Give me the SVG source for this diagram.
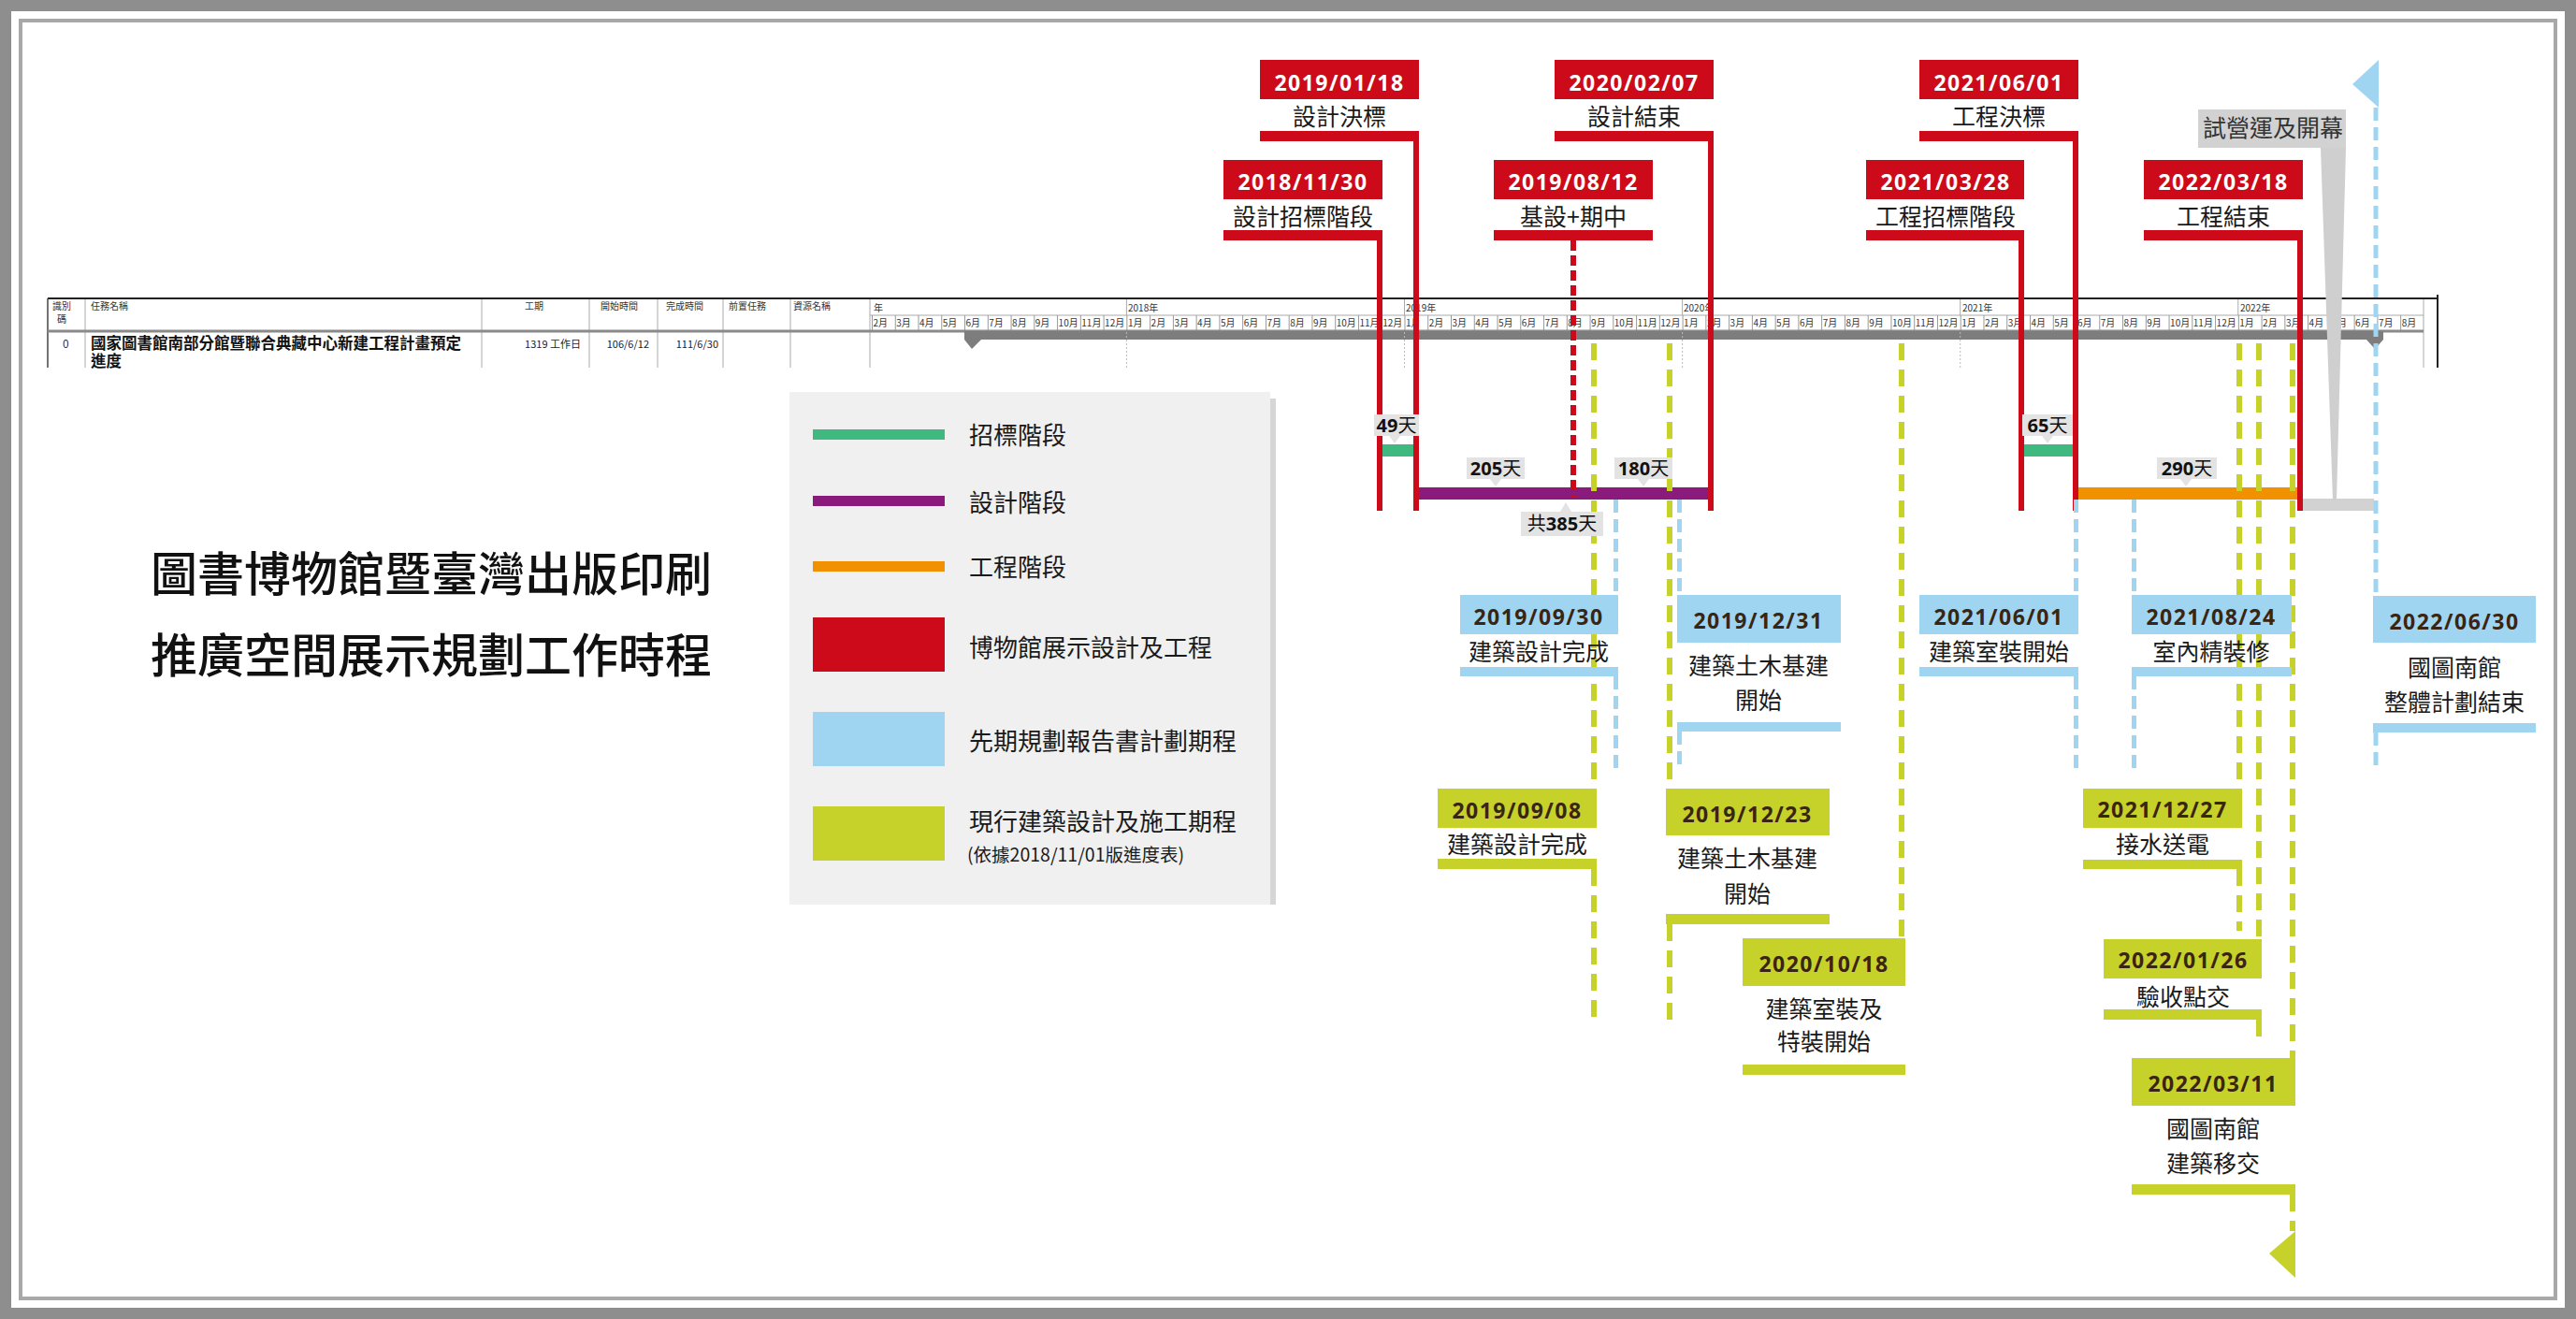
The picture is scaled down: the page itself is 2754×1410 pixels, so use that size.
<svg xmlns="http://www.w3.org/2000/svg" width="2754" height="1410" viewBox="0 0 2754 1410">
<defs>
<style>
.red{fill:#cc0a1a}.blue{fill:#9fd5f1}.lime{fill:#c6d22a}.wh{fill:#fff}
.date{font-family:"Open Sans","Noto Sans",sans-serif;font-weight:700;font-size:23px;text-anchor:middle;letter-spacing:1.5px}
.dw{fill:#fff}.db{fill:#3a2412}
.desc{font-family:"Noto Sans CJK TC",sans-serif;font-size:25px;text-anchor:middle;fill:#1a1a1a}
.lg{font-family:"Noto Sans CJK TC",sans-serif;font-size:26px;fill:#1a1a1a}
.ttl{font-family:"Noto Sans CJK TC",sans-serif;font-size:50px;font-weight:500;fill:#111}
.hd{font-family:"Noto Sans CJK TC",sans-serif;font-size:10px;fill:#333}
.mo{font-family:"Noto Sans CJK TC",sans-serif;font-size:10px;fill:#333}
.rw{font-family:"Noto Sans CJK TC",sans-serif;font-size:11px;fill:#222;text-anchor:end}
.bub{fill:#e3e3e3}
.bt{font-family:"Open Sans","Noto Sans CJK TC",sans-serif;font-weight:700;font-size:20px;fill:#111;text-anchor:middle}
.bt tspan{font-family:"Noto Sans CJK TC",sans-serif;font-weight:400}
.rl{stroke:#cc0a1a;stroke-width:6;fill:none}
.rd{stroke:#cc0a1a;stroke-width:6;fill:none;stroke-dasharray:11 5}
.gd{stroke:#c6d22a;stroke-width:6;fill:none;stroke-dasharray:18 10}
.bd{stroke:#9fd5f1;stroke-width:5;fill:none;stroke-dasharray:14 7}
.grid{stroke:#aaa;stroke-width:1;fill:none}
</style>
<pattern id="mgrid" patternUnits="userSpaceOnUse" x="932" y="337" width="24.76" height="16">
<rect x="0" y="0" width="1" height="16" fill="#999"/>
</pattern>
</defs>
<rect x="0" y="0" width="2754" height="1410" fill="#fff"/>
<g id="frame">
<rect x="6" y="6" width="2742" height="1398" fill="none" stroke="#8e8e8e" stroke-width="12"/>
<rect x="22" y="22" width="2710" height="1366" fill="none" stroke="#a8a8a8" stroke-width="4"/>
</g>

<g id="gantt-table">
<line x1="51" y1="319" x2="2606" y2="319" stroke="#222" stroke-width="2"/>
<line x1="2606" y1="315" x2="2606" y2="393" stroke="#222" stroke-width="2"/>
<line x1="51" y1="319" x2="51" y2="393" stroke="#444" stroke-width="1.5"/>
<path class="grid" d="M91 320V393M515 320V393M630 320V393M703 320V393M773 320V393M845 320V393M930 320V393M2591 320V393"/>
<path class="grid" d="M930 337H2591M1204.4 320V337M1501.5 320V337M1798.6 320V337M2095.7 320V337M2392.8 320V337"/>
<rect x="932" y="337" width="1659" height="16" fill="url(#mgrid)"/>
<line x1="51" y1="354" x2="2591" y2="354" stroke="#8a8a8a" stroke-width="3"/>
<rect x="1031" y="354" width="1517" height="9" fill="#7d7d7d"/>
<polygon points="1031,363 1049,363 1039,373" fill="#7d7d7d"/>
<polygon points="2530,363 2548,363 2539,373" fill="#7d7d7d"/>
<path d="M1204.4 355V393M1501.5 355V393M1798.6 355V393M2095.7 355V393" stroke="#bbb" stroke-width="1" stroke-dasharray="2 2"/>
<text class="hd" x="56" y="331">識別</text>
<text class="hd" x="61" y="345">碼</text>
<text class="hd" x="97" y="331">任務名稱</text>
<text class="hd" x="561" y="331">工期</text>
<text class="hd" x="642" y="331">開始時間</text>
<text class="hd" x="712" y="331">完成時間</text>
<text class="hd" x="779" y="331">前置任務</text>
<text class="hd" x="848" y="331">資源名稱</text>
<text class="hd" x="934" y="333">年</text>
<text class="hd" x="1206" y="333">2018年</text>
<text class="hd" x="1503" y="333">2019年</text>
<text class="hd" x="1800" y="333">2020年</text>
<text class="hd" x="2098" y="333">2021年</text>
<text class="hd" x="2395" y="333">2022年</text>
<g class="mo">
<text x="933.5" y="349">2月</text><text x="958.3" y="349">3月</text><text x="983" y="349">4月</text><text x="1007.8" y="349">5月</text><text x="1032.5" y="349">6月</text><text x="1057.3" y="349">7月</text><text x="1082.1" y="349">8月</text><text x="1106.8" y="349">9月</text><text x="1131.6" y="349">10月</text><text x="1156.3" y="349">11月</text><text x="1181.1" y="349">12月</text>
<text x="1205.9" y="349">1月</text><text x="1230.6" y="349">2月</text><text x="1255.4" y="349">3月</text><text x="1280.1" y="349">4月</text><text x="1304.9" y="349">5月</text><text x="1329.7" y="349">6月</text><text x="1354.4" y="349">7月</text><text x="1379.2" y="349">8月</text><text x="1403.9" y="349">9月</text><text x="1428.7" y="349">10月</text><text x="1453.5" y="349">11月</text><text x="1478.2" y="349">12月</text>
<text x="1503" y="349">1月</text><text x="1527.7" y="349">2月</text><text x="1552.5" y="349">3月</text><text x="1577.3" y="349">4月</text><text x="1602" y="349">5月</text><text x="1626.8" y="349">6月</text><text x="1651.5" y="349">7月</text><text x="1676.3" y="349">8月</text><text x="1701.1" y="349">9月</text><text x="1725.8" y="349">10月</text><text x="1750.6" y="349">11月</text><text x="1775.3" y="349">12月</text>
<text x="1800.1" y="349">1月</text><text x="1824.9" y="349">2月</text><text x="1849.6" y="349">3月</text><text x="1874.4" y="349">4月</text><text x="1899.1" y="349">5月</text><text x="1923.9" y="349">6月</text><text x="1948.7" y="349">7月</text><text x="1973.4" y="349">8月</text><text x="1998.2" y="349">9月</text><text x="2022.9" y="349">10月</text><text x="2047.7" y="349">11月</text><text x="2072.5" y="349">12月</text>
<text x="2097.2" y="349">1月</text><text x="2122" y="349">2月</text><text x="2146.7" y="349">3月</text><text x="2171.5" y="349">4月</text><text x="2196.3" y="349">5月</text><text x="2221" y="349">6月</text><text x="2245.8" y="349">7月</text><text x="2270.5" y="349">8月</text><text x="2295.3" y="349">9月</text><text x="2320.1" y="349">10月</text><text x="2344.8" y="349">11月</text><text x="2369.6" y="349">12月</text>
<text x="2394.3" y="349">1月</text><text x="2419.1" y="349">2月</text><text x="2443.9" y="349">3月</text><text x="2468.6" y="349">4月</text><text x="2493.4" y="349">5月</text><text x="2518.1" y="349">6月</text><text x="2542.9" y="349">7月</text><text x="2567.7" y="349">8月</text>
</g>
<text class="hd" x="67" y="372" style="font-size:12px">0</text>
<text x="97" y="373" font-family="Noto Sans CJK TC,sans-serif" font-size="16.5" font-weight="700" fill="#111">國家圖書館南部分館暨聯合典藏中心新建工程計畫預定</text>
<text x="97" y="392" font-family="Noto Sans CJK TC,sans-serif" font-size="16.5" font-weight="700" fill="#111">進度</text>
<text class="rw" x="621" y="372">1319 工作日</text>
<text class="rw" x="694" y="372">106/6/12</text>
<text class="rw" x="768" y="372">111/6/30</text>
</g>

<g id="legend">
<rect x="1358" y="426" width="6" height="541" fill="#d6d6d6"/>
<rect x="844" y="419" width="514" height="548" fill="#f0f0f0"/>
<rect x="869" y="459" width="141" height="11" fill="#3fb980"/>
<rect x="869" y="530" width="141" height="11" fill="#8a1a7c"/>
<rect x="869" y="600" width="141" height="11" fill="#f29100"/>
<rect x="869" y="660" width="141" height="58" class="red"/>
<rect x="869" y="761" width="141" height="58" class="blue"/>
<rect x="869" y="862" width="141" height="58" class="lime"/>
<text class="lg" x="1036" y="475">招標階段</text>
<text class="lg" x="1036" y="547">設計階段</text>
<text class="lg" x="1036" y="616">工程階段</text>
<text class="lg" x="1036" y="702">博物館展示設計及工程</text>
<text class="lg" x="1036" y="802">先期規劃報告書計劃期程</text>
<text class="lg" x="1036" y="888">現行建築設計及施工期程</text>
<text class="lg" x="1034" y="921" style="font-size:19.5px">(依據2018/11/01版進度表)</text>
</g>

<g id="title">
<text class="ttl" x="161" y="632">圖書博物館暨臺灣出版印刷</text>
<text class="ttl" x="161" y="719">推廣空間展示規劃工作時程</text>
</g>

<g id="phase-bars">
<rect x="1475" y="475" width="39" height="13" fill="#3fb980"/>
<rect x="2161" y="475" width="58" height="13" fill="#3fb980"/>
<rect x="1514" y="521" width="315" height="13" fill="#8a1a7c"/>
<rect x="2219" y="521" width="240" height="13" fill="#f29100"/>
<rect x="2462" y="533" width="76" height="13" fill="#d2d2d2"/>
</g>

<g id="connectors">
<path class="rl" d="M1475 257V546M1514 151V546M1829 151V546M2161 257V546M2219 151V546M2459 257V546"/>
<path class="rd" d="M1682 257V532"/>
<path class="gd" d="M1704 367V843M1704 929V1092M1785 367V843M1785 988V1092M2033 367V1003M2394 367V843M2394 929V995M2415 367V1004M2415 1090V1118M2451 367V1131M2451 1277V1316"/>
<path class="bd" d="M1727.5 534V636M1727.5 723V822M1795.5 534V636M1795.5 782V820M2219.5 534V636M2219.5 723V822M2281.5 534V636M2281.5 723V822M2540 115V637M2540 783V822"/>
<polygon points="2543,64 2543,115 2515,90" class="blue"/>
<polygon points="2454,1316 2454,1366 2426,1340" class="lime"/>
<polygon points="2481,158 2508,158 2498,535 2494,535" fill="#cfcfcf"/>
</g>

<g id="m-20181130"><rect x="1308" y="171" width="170" height="42" class="red"/><rect x="1308" y="246" width="170" height="11" class="red"/><text class="date dw" x="1393" y="203">2018/11/30</text><text class="desc" x="1393" y="241">設計招標階段</text></g>
<g id="m-20190118"><rect x="1347" y="64" width="170" height="42" class="red"/><rect x="1347" y="140" width="170" height="11" class="red"/><text class="date dw" x="1432" y="97">2019/01/18</text><text class="desc" x="1432" y="134">設計決標</text></g>
<g id="m-20190812"><rect x="1597" y="171" width="170" height="42" class="red"/><rect x="1597" y="246" width="170" height="11" class="red"/><text class="date dw" x="1682" y="203">2019/08/12</text><text class="desc" x="1682" y="241">基設+期中</text></g>
<g id="m-20200207"><rect x="1662" y="64" width="170" height="42" class="red"/><rect x="1662" y="140" width="170" height="11" class="red"/><text class="date dw" x="1747" y="97">2020/02/07</text><text class="desc" x="1747" y="134">設計結束</text></g>
<g id="m-20210328"><rect x="1995" y="171" width="169" height="42" class="red"/><rect x="1995" y="246" width="169" height="11" class="red"/><text class="date dw" x="2080" y="203">2021/03/28</text><text class="desc" x="2080" y="241">工程招標階段</text></g>
<g id="m-20210601"><rect x="2052" y="64" width="170" height="42" class="red"/><rect x="2052" y="140" width="170" height="11" class="red"/><text class="date dw" x="2137" y="97">2021/06/01</text><text class="desc" x="2137" y="134">工程決標</text></g>
<g id="m-20220318"><rect x="2292" y="171" width="170" height="42" class="red"/><rect x="2292" y="246" width="170" height="11" class="red"/><text class="date dw" x="2377" y="203">2022/03/18</text><text class="desc" x="2377" y="241">工程結束</text></g>
<g id="m-opening"><rect x="2350" y="117" width="158" height="41" fill="#d2d2d2"/><text class="desc" x="2430" y="146" style="fill:#333">試營運及開幕</text></g>

<g id="b-20190930"><rect x="1561" y="636" width="169" height="42" class="blue"/><rect x="1561" y="713" width="169" height="10" class="blue"/><text class="date db" x="1645" y="668">2019/09/30</text><text class="desc" x="1645" y="706">建築設計完成</text></g>
<g id="b-20191231"><rect x="1793" y="636" width="175" height="51" class="blue"/><rect x="1793" y="772" width="175" height="10" class="blue"/><text class="date db" x="1880" y="672">2019/12/31</text><text class="desc" x="1880" y="721">建築土木基建</text><text class="desc" x="1880" y="758">開始</text></g>
<g id="b-20210601"><rect x="2052" y="636" width="170" height="42" class="blue"/><rect x="2052" y="713" width="170" height="10" class="blue"/><text class="date db" x="2137" y="668">2021/06/01</text><text class="desc" x="2137" y="706">建築室裝開始</text></g>
<g id="b-20210824"><rect x="2279" y="636" width="171" height="42" class="blue"/><rect x="2279" y="713" width="171" height="10" class="blue"/><text class="date db" x="2364" y="668">2021/08/24</text><text class="desc" x="2364" y="706">室內精裝修</text></g>
<g id="b-20220630"><rect x="2537" y="637" width="174" height="50" class="blue"/><rect x="2537" y="773" width="174" height="10" class="blue"/><text class="date db" x="2624" y="673">2022/06/30</text><text class="desc" x="2624" y="723">國圖南館</text><text class="desc" x="2624" y="760">整體計劃結束</text></g>

<g id="g-20190908"><rect x="1537" y="843" width="170" height="42" class="lime"/><rect x="1537" y="918" width="170" height="11" class="lime"/><text class="date db" x="1622" y="875">2019/09/08</text><text class="desc" x="1622" y="912">建築設計完成</text></g>
<g id="g-20191223"><rect x="1781" y="843" width="175" height="50" class="lime"/><rect x="1781" y="977" width="175" height="11" class="lime"/><text class="date db" x="1868" y="879">2019/12/23</text><text class="desc" x="1868" y="927">建築土木基建</text><text class="desc" x="1868" y="965">開始</text></g>
<g id="g-20201018"><rect x="1863" y="1003" width="174" height="51" class="lime"/><rect x="1863" y="1138" width="174" height="11" class="lime"/><text class="date db" x="1950" y="1039">2020/10/18</text><text class="desc" x="1950" y="1088">建築室裝及</text><text class="desc" x="1950" y="1123">特裝開始</text></g>
<g id="g-20211227"><rect x="2227" y="843" width="170" height="42" class="lime"/><rect x="2227" y="919" width="170" height="10" class="lime"/><text class="date db" x="2312" y="874">2021/12/27</text><text class="desc" x="2312" y="912">接水送電</text></g>
<g id="g-20220126"><rect x="2249" y="1004" width="169" height="42" class="lime"/><rect x="2249" y="1079" width="169" height="11" class="lime"/><text class="date db" x="2334" y="1035">2022/01/26</text><text class="desc" x="2334" y="1075">驗收點交</text></g>
<g id="g-20220311"><rect x="2279" y="1131" width="175" height="51" class="lime"/><rect x="2279" y="1266" width="175" height="11" class="lime"/><text class="date db" x="2366" y="1167">2022/03/11</text><text class="desc" x="2366" y="1216">國圖南館</text><text class="desc" x="2366" y="1253">建築移交</text></g>

<g id="duration-labels">
<rect x="1469" y="443" width="48" height="23" class="bub"/><polygon points="1485,466 1497,466 1491,474" class="bub"/><text class="bt" x="1493" y="462">49<tspan>天</tspan></text>
<rect x="2162" y="443" width="54" height="23" class="bub"/><polygon points="2183,466 2195,466 2189,474" class="bub"/><text class="bt" x="2189" y="462">65<tspan>天</tspan></text>
<rect x="1568" y="489" width="62" height="23" class="bub"/><polygon points="1593,512 1605,512 1599,520" class="bub"/><text class="bt" x="1599" y="508">205<tspan>天</tspan></text>
<rect x="1726" y="489" width="62" height="23" class="bub"/><polygon points="1751,512 1763,512 1757,520" class="bub"/><text class="bt" x="1757" y="508">180<tspan>天</tspan></text>
<rect x="2306" y="489" width="64" height="23" class="bub"/><polygon points="2331,512 2343,512 2337,520" class="bub"/><text class="bt" x="2338" y="508">290<tspan>天</tspan></text>
<rect x="1626" y="547" width="88" height="26" class="bub"/><polygon points="1668,547 1680,547 1674,537" class="bub"/><text class="bt" x="1670" y="567"><tspan>共</tspan>385<tspan>天</tspan></text>
</g>
</svg>
